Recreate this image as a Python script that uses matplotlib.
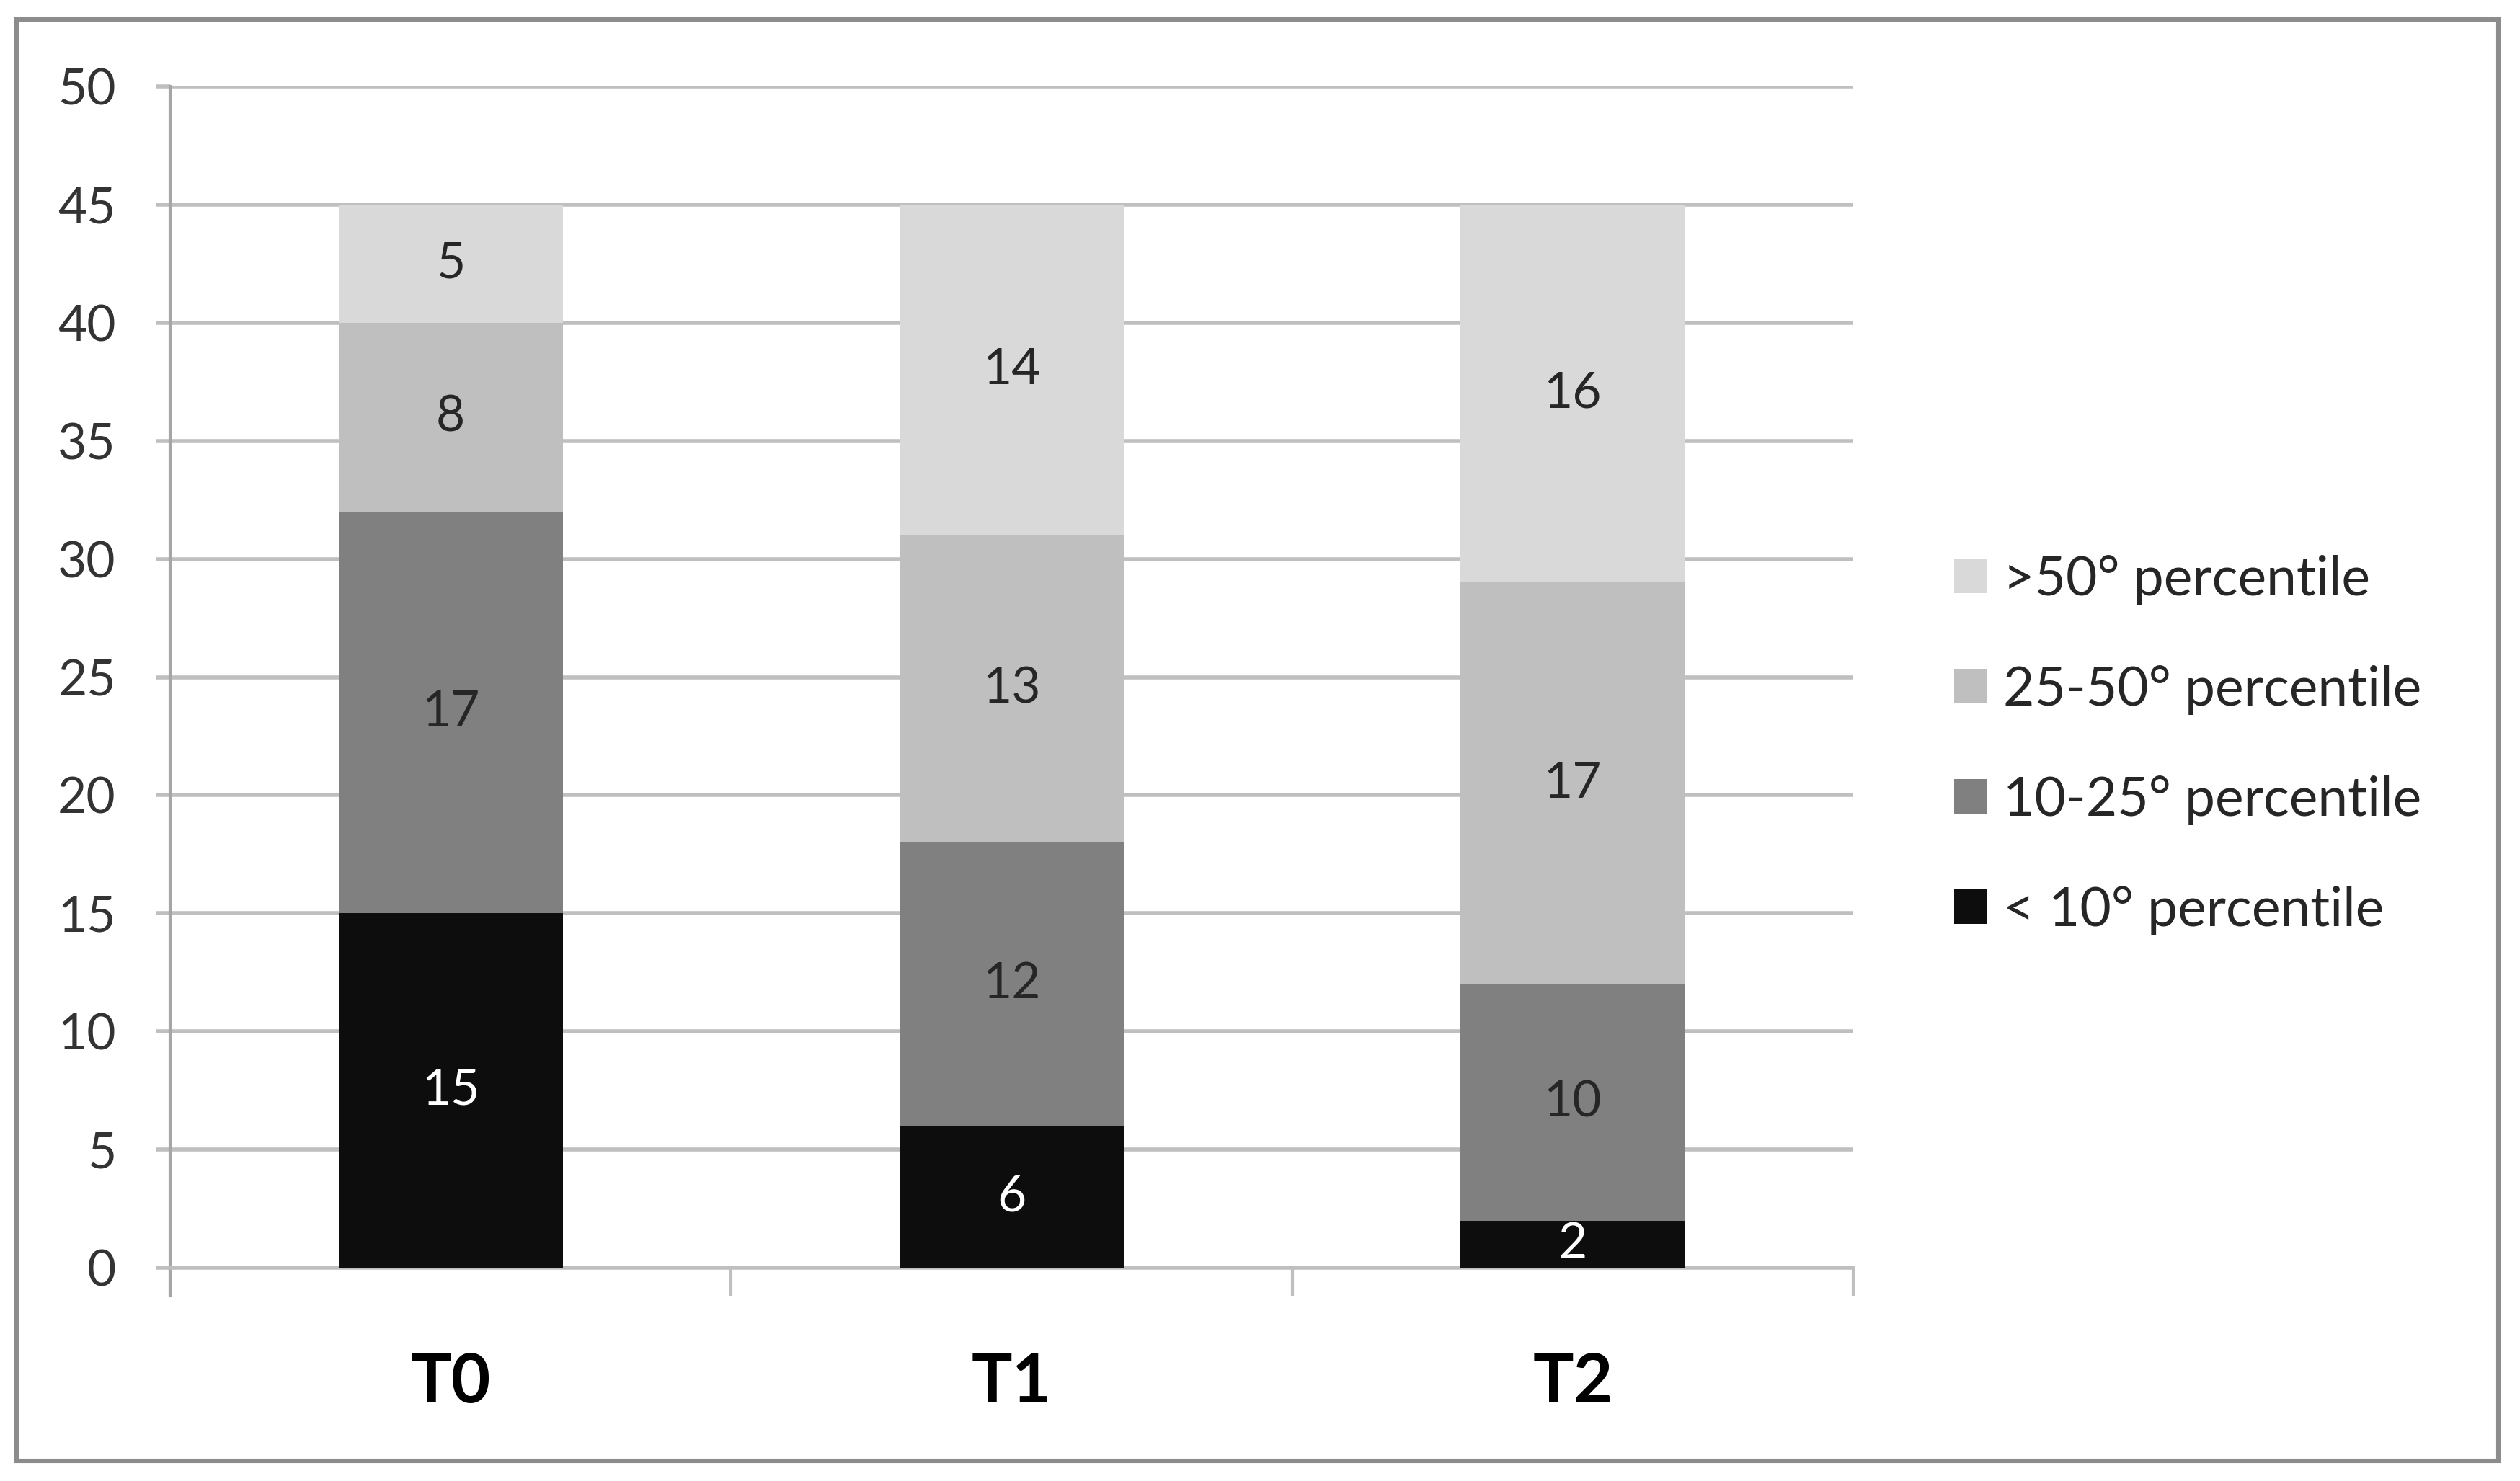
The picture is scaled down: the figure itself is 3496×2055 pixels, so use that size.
import numpy as np
import matplotlib.pyplot as plt
from matplotlib.patches import Rectangle

plt.rcParams['font.family'] = ['Lato', 'DejaVu Sans']

# data
categories = ['T0', 'T1', 'T2']
lt10 = [15, 6, 2]
p10_25 = [17, 12, 10]
p25_50 = [8, 13, 17]
gt50 = [5, 14, 16]

series = [lt10, p10_25, p25_50, gt50]
names = ['< 10° percentile', '10-25° percentile', '25-50° percentile', '>50° percentile']
colors = ['#0d0d0d', '#808080', '#bfbfbf', '#d9d9d9']
txtcol = ['white', '#262626', '#262626', '#262626']

fig = plt.figure(figsize=(17.48, 10.275), dpi=200)
ax = fig.add_axes([0.0675, 0.144, 0.668, 0.7976])

x = np.arange(len(categories))
bottom = np.zeros(len(categories))
handles = []
for vals, name, c, tc in zip(series, names, colors, txtcol):
    bars = ax.bar(x, vals, 0.4, bottom=bottom, color=c, label=name, zorder=3,
                  edgecolor=c, linewidth=0)
    handles.append(bars)
    for xi, b, v in zip(x, bottom, vals):
        ax.text(xi, b + v / 2.0, str(v), ha='center', va='center',
                fontsize=25, color=tc, zorder=4)
    bottom = bottom + np.array(vals)

ax.set_xlim(-0.5, 2.5)
ax.set_ylim(0, 50)
ax.set_yticks(np.arange(0, 51, 5))
ax.set_xticks(x)
ax.set_xticklabels(categories, fontsize=34, fontweight='bold', color='black')
ax.set_xticks([-0.5, 0.5, 1.5, 2.5], minor=True)
ax.tick_params(axis='x', which='major', length=0, pad=42)
ax.tick_params(axis='x', which='minor', length=14, width=1.5, color='#bfbfbf', direction='out')
ax.tick_params(axis='y', length=7, width=2, color='#bfbfbf', direction='out',
               labelsize=25, labelcolor='#333333', pad=20)

ax.yaxis.grid(True, color='#bfbfbf', linewidth=2, zorder=0)
ax.set_axisbelow(True)
for s in ['top', 'right']:
    ax.spines[s].set_visible(False)
ax.spines['bottom'].set_color('#bfbfbf')
ax.spines['bottom'].set_linewidth(2)
ax.spines['left'].set_color('#a6a6a6')
ax.spines['left'].set_linewidth(1.5)
ax.spines['left'].set_bounds(-1.2, 50)

leg = fig.legend(handles[::-1], names[::-1], loc='center left',
                 bbox_to_anchor=(0.7755, 0.497), frameon=False, fontsize=27,
                 handlelength=0.6, handleheight=0.6, handletextpad=0.3,
                 labelspacing=1.12, borderpad=0, borderaxespad=0)
for t in leg.get_texts():
    t.set_color('#262626')

# outer chart border
fig.patches.append(Rectangle((0.0066, 0.0136), 0.9848, 0.9733, transform=fig.transFigure,
                             fill=False, edgecolor='#8c8c8c', linewidth=2.2))

plt.savefig('out.png', dpi=200)
